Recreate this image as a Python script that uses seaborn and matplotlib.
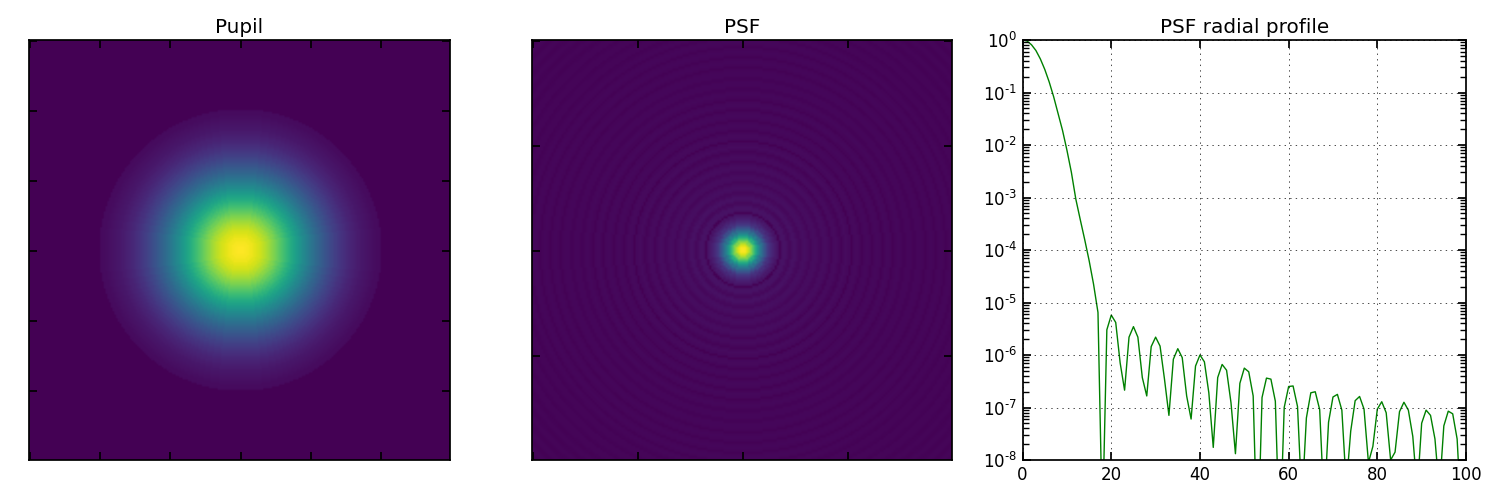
import numpy as np
import matplotlib
matplotlib.use("Agg")
import matplotlib.pyplot as plt
from matplotlib.ticker import LogLocator, NullFormatter, MultipleLocator
from matplotlib.transforms import ScaledTranslation
import seaborn as sns

# colour level of the pupil, one value per 1.75 px going out from the centre
pupil_levels = [1.0, .999, .998, .995, .991, .986, .980, .973, .964, .955,
                .945, .934, .922, .909, .895, .880, .865, .849, .832, .815,
                .797, .779, .760, .741, .721, .702, .682, .662, .642, .621,
                .601, .581, .560, .540, .520, .500, .480, .461, .442, .423,
                .404, .386, .369, .351, .335, .318, .302, .287, .272, .257,
                .243, .229, .216, .204, .191, .180, .169, .158, .148, .138,
                .129, .120, .112, .104, .097, .090, .083, .077, .071, .066,
                .061, .056, .052, .048, .044, .040, .037, .034, .031, .028,
                .026, 0.0]

# log10 of the PSF radial profile, r = 0..99
profile_log10 = [0.0, -.02, -.09, -.2, -.36, -.56, -.8, -1.08, -1.4, -1.72,
                 -2.1, -2.52, -3.03, -3.42, -3.8, -4.2, -4.65, -5.19, -9.3, -5.52,
                 -5.24, -5.38, -6.15, -6.67, -5.66, -5.46, -5.66, -6.43, -6.78, -5.84,
                 -5.66, -5.83, -6.46, -7.15, -6.08, -5.88, -6.05, -6.78, -7.22, -6.21,
                 -6.0, -6.13, -6.72, -7.76, -6.43, -6.18, -6.29, -6.91, -7.88, -6.54,
                 -6.25, -6.32, -6.78, -9.8, -6.81, -6.44, -6.46, -6.88, -9.6, -7.0,
                 -6.6, -6.59, -6.98, -8.8, -7.2, -6.72, -6.7, -7.04, -8.9, -7.28,
                 -6.8, -6.75, -7.05, -8.5, -7.45, -6.87, -6.79, -7.03, -8.05, -7.74,
                 -7.03, -6.89, -7.1, -8.0, -7.85, -7.08, -6.9, -7.05, -7.55, -8.6,
                 -7.3, -7.05, -7.15, -7.6, -8.6, -7.35, -7.07, -7.12, -7.6, -9.2]

# rings beyond the plotted range, they only show in the corners of the PSF image
tail_log10 = [-7.5, -7.16, -7.2, -7.7, -9.0, -7.55, -7.2, -7.25, -7.75, -9.1,
              -7.6, -7.25, -7.3, -7.8, -9.1, -7.65, -7.3, -7.35, -7.85, -9.2,
              -7.7, -7.35, -7.4, -7.9, -9.2, -7.75, -7.4, -7.45, -7.95, -9.3,
              -7.8, -7.45, -7.5, -8.0, -9.3, -7.85, -7.5, -7.55, -8.05, -9.4,
              -7.9, -7.55, -7.6, -8.1, -9.4, -7.95]

pupil_ticks = [0, 100, 200, 300, 400, 500]
psf_ticks = [0, 150, 300, 450]
profile_yticks = [1e-8, 1e-7, 1e-6, 1e-5, 1e-4, 1e-3, 1e-2, 1e-1, 1e0]
profile_ylabels = ["8", "7", "6", "5", "4", "3", "2", "1", None]

plt.style.use("classic")
sns.set_context("notebook", rc={"lines.linewidth": 1.0})
plt.rcParams["font.family"] = ["DejaVu Sans"]
plt.rcParams["mathtext.fontset"] = "dejavusans"
plt.rcParams["mathtext.default"] = "regular"
plt.rcParams["figure.facecolor"] = "white"
plt.rcParams["savefig.facecolor"] = "white"
viridis = sns.color_palette("viridis", as_cmap=True)


def radial_image(levels, n_cells):
    # every cell takes the table entry of its distance from the centre
    levels = np.asarray(levels)
    pos = np.arange(n_cells) + 0.5 - n_cells / 2
    xx, yy = np.meshgrid(pos, pos)
    idx = np.rint(np.hypot(xx, yy)).astype(int)
    return levels[np.clip(idx, 0, len(levels) - 1)]


def px_axes(fig, left, right, top=40, bottom=460):
    return fig.add_axes([left / 1500, 1 - bottom / 500, (right - left) / 1500, (bottom - top) / 500])


def show_image(ax, img, ticks, title):
    # image sits a pixel right of the axes centre, as in the original
    ax.set_facecolor(viridis(0.0))
    ax.imshow(img, cmap=viridis, vmin=0, vmax=1, extent=[0, 600, 598.5, -1.5],
              interpolation="bilinear", aspect="auto")
    ax.set_xlim(-1.5, 598.5)
    ax.set_ylim(598.5, -1.5)
    ax.set_xticks(ticks)
    ax.set_yticks(ticks)
    ax.set_xticklabels([])
    ax.set_yticklabels([])
    ax.set_title(title, fontsize=14.4)


fig = plt.figure(figsize=(15, 5), dpi=100)

ax1 = px_axes(fig, 29, 450)
show_image(ax1, radial_image(pupil_levels, 240), pupil_ticks, "Pupil")

# image is the fourth root of the intensity, 2.05 px per profile step
full_log10 = np.array(profile_log10 + tail_log10)
ax2 = px_axes(fig, 532, 952)
show_image(ax2, radial_image(10.0 ** (full_log10 * 0.25), 205), psf_ticks, "PSF")

ax3 = px_axes(fig, 1022.6, 1466)
radius = np.arange(len(profile_log10))
sns.lineplot(x=radius, y=10.0 ** np.array(profile_log10), color="g", linewidth=1.0, ax=ax3)
ax3.set_yscale("log")
ax3.set_xlim(0, 100)
ax3.set_ylim(1e-8, 1)
ax3.xaxis.set_major_locator(MultipleLocator(20))
ax3.set_yticks(profile_yticks)
# the original has a short hyphen in the exponent, not a minus sign
ax3.set_yticklabels([r"$10^{0}$" if e is None else r"$10^{\text{-" + e + "}}$" for e in profile_ylabels])
ax3.yaxis.set_minor_locator(LogLocator(base=10, subs=np.arange(2, 10), numticks=12))
ax3.yaxis.set_minor_formatter(NullFormatter())
ax3.tick_params(labelsize=12)
for label in ax3.get_yticklabels():
    label.set_transform(label.get_transform() + ScaledTranslation(0, -1.5 / 72, fig.dpi_scale_trans))
ax3.grid(True, which="major", color="k", linestyle=":", linewidth=0.5)
ax3.set_title("PSF radial profile", fontsize=14.4)

fig.savefig("out.png", dpi=100)
